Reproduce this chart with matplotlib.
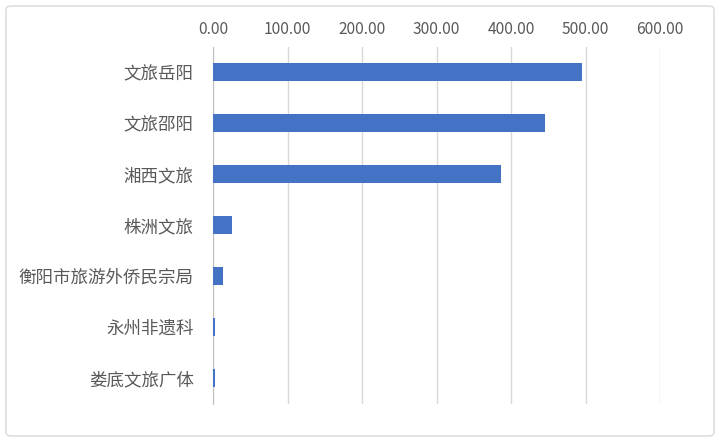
import matplotlib.pyplot as plt
from matplotlib.patches import FancyBboxPatch

plt.rcParams['font.family'] = ['Noto Sans CJK SC', 'DejaVu Sans']

# 数据（从上到下）
categories = ['文旅岳阳', '文旅邵阳', '湘西文旅', '株洲文旅',
              '衡阳市旅游外侨民宗局', '永州非遗科', '娄底文旅广体']
values = [495, 445, 387, 25, 13.5, 2.7, 2.7]
xticks = [0, 100, 200, 300, 400, 500, 600]

fig = plt.figure(figsize=(7.2, 4.41), dpi=100)
ax = fig.add_axes([213.3 / 720, 1 - 403.5 / 441, (660 - 213.3) / 720, 357 / 441])

# 外框
border = FancyBboxPatch((6 / 720, 5 / 441), 708 / 720, 430 / 441,
                        boxstyle='round,pad=0,rounding_size=0.008',
                        transform=fig.transFigure, facecolor='white',
                        edgecolor='#d9d9d9', lw=1, zorder=-10)
fig.patches.append(border)

y = list(range(len(categories)))
ax.barh(y, values, height=0.34, color='#4472C4', zorder=3)

ax.set_xlim(0, 600)
ax.set_ylim(len(categories) - 0.5, -0.5)
ax.set_yticks(y)
ax.set_yticklabels(categories, fontsize=12.6, color='#595959')
ax.set_xticks(xticks)
ax.set_xticklabels([f'{v:.2f}' for v in xticks], fontsize=11.2, color='#595959')
ax.xaxis.tick_top()
ax.tick_params(axis='both', length=0)
ax.tick_params(axis='x', pad=6)
ax.tick_params(axis='y', pad=14)

ax.grid(axis='x', color='#d9d9d9', lw=1, zorder=0)
for s in ['top', 'right', 'bottom']:
    ax.spines[s].set_visible(False)
ax.spines['left'].set_color('#bfbfbf')
ax.patch.set_alpha(0)

plt.savefig('out.png', dpi=100)
